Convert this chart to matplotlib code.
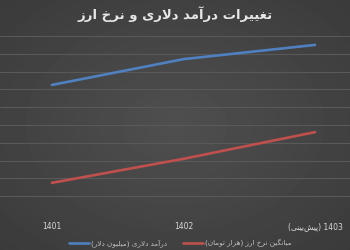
import numpy as np
import matplotlib
matplotlib.use("Agg")
import matplotlib.pyplot as plt

# matplotlib does not join or reorder Persian letters, so do it here with
# presentation forms: (isolated, final, initial, medial)
FORMS = {
    "ا": (0xFE8D, 0xFE8E), "آ": (0xFE81, 0xFE82),
    "د": (0xFEA9, 0xFEAA), "ر": (0xFEAD, 0xFEAE),
    "ز": (0xFEAF, 0xFEB0), "و": (0xFEED, 0xFEEE),
    "ب": (0xFE8F, 0xFE90, 0xFE91, 0xFE92), "پ": (0xFB56, 0xFB57, 0xFB58, 0xFB59),
    "ت": (0xFE95, 0xFE96, 0xFE97, 0xFE98), "خ": (0xFEA5, 0xFEA6, 0xFEA7, 0xFEA8),
    "ش": (0xFEB5, 0xFEB6, 0xFEB7, 0xFEB8), "غ": (0xFECD, 0xFECE, 0xFECF, 0xFED0),
    "گ": (0xFB92, 0xFB93, 0xFB94, 0xFB95), "ل": (0xFEDD, 0xFEDE, 0xFEDF, 0xFEE0),
    "م": (0xFEE1, 0xFEE2, 0xFEE3, 0xFEE4), "ن": (0xFEE5, 0xFEE6, 0xFEE7, 0xFEE8),
    "ه": (0xFEE9, 0xFEEA, 0xFEEB, 0xFEEC), "ی": (0xFBFC, 0xFBFD, 0xFBFE, 0xFBFF),
}
LAM_ALEF = {"ا": (0xFEFB, 0xFEFC), "آ": (0xFEF5, 0xFEF6)}
MIRROR = {"(": ")", ")": "("}


def dual(c):
    return c in FORMS and len(FORMS[c]) == 4


def fa(text):
    # merge lam + alef first
    units = []
    i = 0
    while i < len(text):
        if text[i] == "ل" and i + 1 < len(text) and text[i + 1] in LAM_ALEF:
            units.append(("LA", text[i + 1]))
            i += 2
        else:
            units.append((text[i], None))
            i += 1

    def joins_next(u):
        return u[0] != "LA" and dual(u[0])

    def takes_prev(u):
        return u[0] == "LA" or u[0] in FORMS

    out = []
    for k, u in enumerate(units):
        prev = units[k - 1] if k > 0 else None
        nxt = units[k + 1] if k + 1 < len(units) else None
        jp = prev is not None and joins_next(prev) and takes_prev(u)
        jn = nxt is not None and joins_next(u) and takes_prev(nxt)
        if u[0] == "LA":
            out.append(chr(LAM_ALEF[u[1]][1 if jp else 0]))
        elif u[0] in FORMS:
            f = FORMS[u[0]]
            if len(f) == 2:
                out.append(chr(f[1] if jp else f[0]))
            else:
                out.append(chr(f[3] if jp and jn else f[1] if jp else f[2] if jn else f[0]))
        elif u[0] == "\u200c":
            continue
        else:
            out.append(u[0])

    # right-to-left visual order, digits stay left-to-right
    out = [MIRROR.get(c, c) for c in out[::-1]]
    res, run = [], []
    for c in out:
        if c.isdigit():
            run.append(c)
        else:
            res.extend(run[::-1])
            run = []
            res.append(c)
    res.extend(run[::-1])
    return "".join(res)


years = ["1401", "1402", "1403 (پیش\u200cبینی)"]
revenue = [7.25, 8.7, 9.5]       # درآمد دلاری (میلیون دلار)
fx_rate = [1.75, 3.1, 4.6]       # میانگین نرخ ارز (هزار تومان)
title = "تغییرات درآمد دلاری و نرخ ارز"
labels = ["درآمد دلاری (میلیون دلار)", "میانگین نرخ ارز (هزار تومان)"]

plt.rcParams["font.family"] = ["DejaVu Sans"]

fig = plt.figure(figsize=(3.5, 2.5), dpi=100)

# radial grey background
bg = fig.add_axes([0, 0, 1, 1])
yy, xx = np.mgrid[-1:1:250j, -1:1:350j]
r = np.sqrt(xx ** 2 + yy ** 2) / np.sqrt(2)
bg.imshow(0.31 - 0.08 * r, cmap="gray", vmin=0, vmax=1, aspect="auto")
bg.axis("off")

ax = fig.add_axes([0, 0.144, 1, 0.712])
ax.patch.set_alpha(0)
x = np.arange(len(years))
ax.plot(x, revenue, color="#5080c0", lw=1.9, solid_capstyle="round", label=fa(labels[0]))
ax.plot(x, fx_rate, color="#c0504d", lw=1.9, solid_capstyle="round", label=fa(labels[1]))

ax.set_ylim(0, 10)
ax.set_yticks(np.arange(0, 11))
ax.set_yticklabels([])
ax.set_xlim(-0.395, 2.266)
ax.set_xticks(x)
ax.set_xticklabels([fa(t) for t in years], fontsize=5.5, color="#d9d9d9")
ax.tick_params(length=0, pad=6)
ax.grid(axis="y", color="#595959", lw=0.8)
ax.set_axisbelow(True)
for s in ax.spines.values():
    s.set_visible(False)

fig.text(0.5, 0.942, fa(title), ha="center", va="center", fontsize=9.5,
         fontweight="bold", color="#e6e6e6")

fig.legend(loc="center", bbox_to_anchor=(0.515, 0.028), ncol=2, frameon=False,
           fontsize=5.2, labelcolor="#bfbfbf", handlelength=2.8, columnspacing=2.3,
           handletextpad=0.2)

fig.savefig("out.png", dpi=100)
